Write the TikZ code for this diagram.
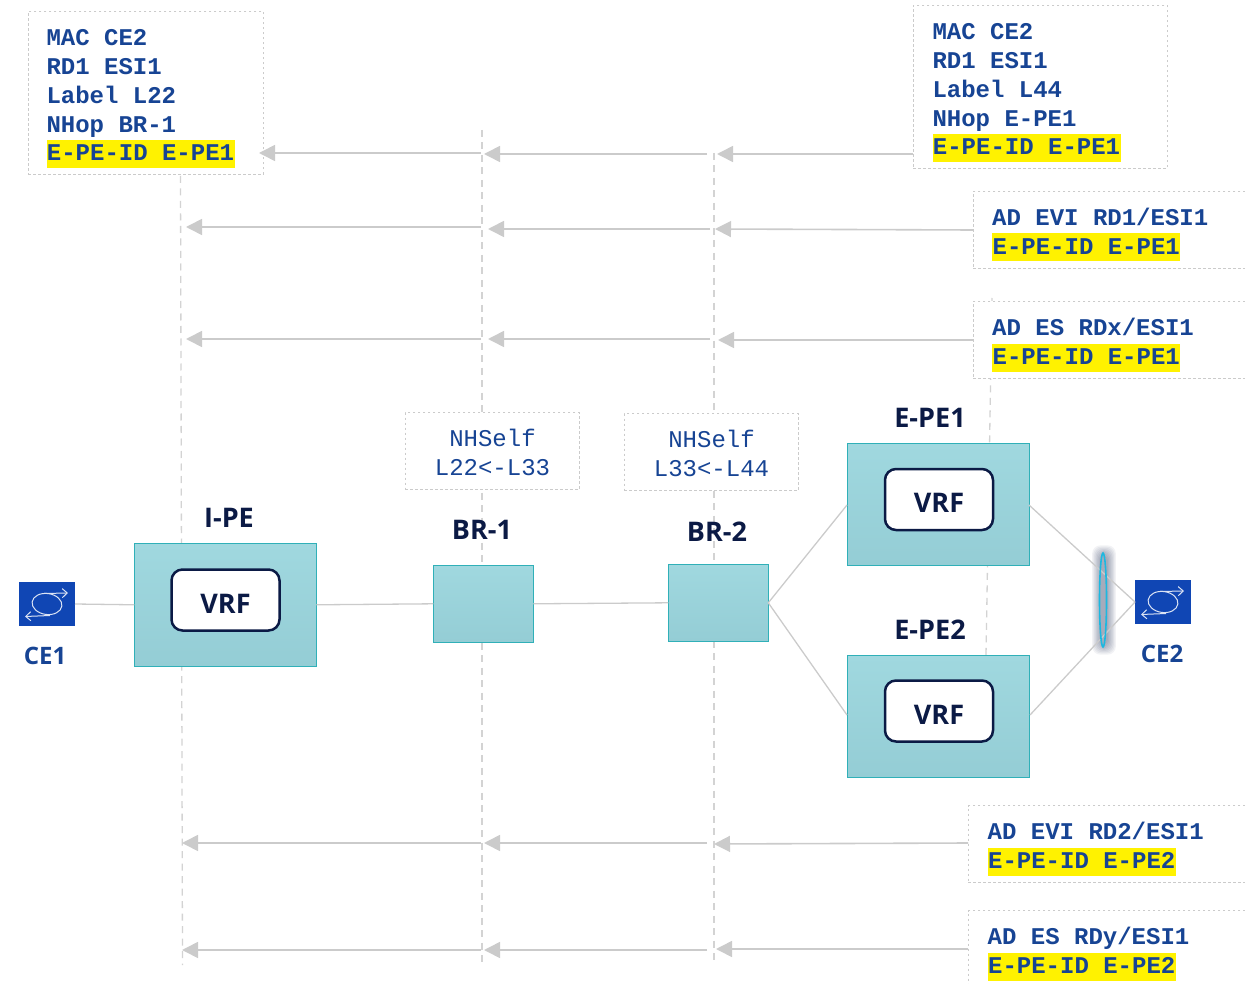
\documentclass[tikz,border=0pt]{standalone}
\usepackage{fontspec}
\setmainfont{Open Sans}
\setmonofont{Liberation Mono}
\usetikzlibrary{positioning,calc,arrows.meta}
\definecolor{msgblue}{HTML}{174494}
\definecolor{navy}{HTML}{0B1A45}
\definecolor{linegray}{HTML}{CBCBCB}
\definecolor{teal1}{HTML}{A0D8DF}
\definecolor{teal2}{HTML}{94CDD5}
\definecolor{tealedge}{HTML}{30B0B8}
\definecolor{iconblue}{HTML}{1046B4}
\definecolor{ringcyan}{HTML}{1CB8E0}
\newcommand{\hlid}[1]{{\setlength{\fboxsep}{0pt}\colorbox{yellow}{\rule[-7pt]{0pt}{28pt}\hspace{.4pt}#1\hspace{.4pt}}}}
\newcommand{\topline}{\rule{0pt}{20pt}}
\tikzset{
  router/.style={draw=tealedge,line width=1.5pt,top color=teal1,bottom color=teal2,anchor=north west,inner sep=0pt,outer sep=0pt,xshift=.3pt,yshift=-.3pt},
  vrfbox/.style={draw=navy,line width=2.5pt,fill=white,rounded corners=11pt,minimum width=108pt,minimum height=61pt,text height=26pt,text depth=0pt,font=\fontsize{27}{30}\selectfont\bfseries,text=navy},
  devname/.style={font=\fontsize{27}{30}\selectfont\bfseries,text=navy},
  cename/.style={font=\fontsize{24}{30}\selectfont\bfseries,text=msgblue},
  cebox/.style={fill=iconblue,minimum width=56pt,minimum height=44pt,inner sep=0pt,outer sep=0pt},
  dashbox/.style={draw=linegray,fill=white,line width=1pt,dash pattern=on 2.5pt off 2.5pt,anchor=north west,inner sep=0pt,outer sep=0pt,xshift=.3pt,yshift=-.5pt},
  msgtext/.style={anchor=north west,inner sep=0pt,align=left,text=msgblue,font=\fontsize{24}{28.8}\selectfont\ttfamily\bfseries},
  selftext/.style={inner sep=0pt,align=center,text=msgblue,font=\fontsize{24}{28.8}\selectfont\ttfamily},
  lifeline/.style={draw=linegray!85,line width=1.3pt,dash pattern=on 7pt off 5.5pt},
  link/.style={draw=linegray,line width=1.3pt},
  msgarrow/.style={draw=linegray,line width=1.6pt,-{Triangle[length=16pt,width=16pt]}},
  swicon/.pic={
    \draw[white!85!iconblue,line width=1pt,rotate=-8] (0,0) ellipse (15pt and 10.5pt);
    \draw[white!85!iconblue,line width=1pt,-{Straight Barb[length=5pt,width=9pt]}] (-3,-10.5) -- (21,-11);
    \draw[white!85!iconblue,line width=1pt,-{Straight Barb[length=5pt,width=9pt]}] (3,11.5) -- (-22,12.5);
  }
}
\begin{document}
\begin{tikzpicture}[x=1pt,y=-1pt]
\path[use as bounding box,clip] (0,0) rectangle (1245,984);
% lifelines
\coordinate (ipetop) at (180.5,176);
\coordinate (ipebot) at (182.5,965);
\coordinate (bronetop) at (482,130);
\coordinate (bronebot) at (482,965);
\coordinate (brtwotop) at (714,153);
\coordinate (brtwobot) at (714,965);
\coordinate (epetop) at (992,298);
\coordinate (epebot) at (986,655);
\draw[lifeline] (ipetop) -- (ipebot);
\draw[lifeline] (bronetop) -- (bronebot);
\draw[lifeline] (brtwotop) -- (brtwobot);
\draw[lifeline] (epetop) -- (epebot);
% message boxes
\node[dashbox,minimum width=235pt,minimum height=163pt] (macleft) at (28,11) {};
\node[msgtext] (macleftt) at (46.3,25.5) {\topline MAC CE2\\RD1 ESI1\\Label L22\\NHop BR-1\\\hlid{E-PE-ID E-PE1}};
\node[dashbox,minimum width=254pt,minimum height=163pt] (macright) at (913,5) {};
\node[msgtext] (macrightt) at (932.3,19.5) {\topline MAC CE2\\RD1 ESI1\\Label L44\\NHop E-PE1\\\hlid{E-PE-ID E-PE1}};
\node[dashbox,minimum width=290pt,minimum height=77pt] (evione) at (973,191) {};
\node[msgtext] (evionet) at (992,205.5) {\topline AD EVI RD1/ESI1\\\hlid{E-PE-ID E-PE1}};
\node[dashbox,minimum width=290pt,minimum height=77pt] (esone) at (973,301) {};
\node[msgtext] (esonet) at (992,315.5) {\topline AD ES RDx/ESI1\\\hlid{E-PE-ID E-PE1}};
\node[dashbox,minimum width=290pt,minimum height=77pt] (evitwo) at (968,805) {};
\node[msgtext] (evitwot) at (987.5,819.5) {\topline AD EVI RD2/ESI1\\\hlid{E-PE-ID E-PE2}};
\node[dashbox,minimum width=290pt,minimum height=77pt] (estwo) at (968,910) {};
\node[msgtext] (estwot) at (987.5,924.5) {\topline AD ES RDy/ESI1\\\hlid{E-PE-ID E-PE2}};
\node[dashbox,minimum width=174pt,minimum height=77pt] (selfone) at (405,412) {};
\node[selftext] (selfonet) at (492.5,452.5) {NHSelf\\L22<-L33};
\node[dashbox,minimum width=174pt,minimum height=77pt] (selftwo) at (624,413) {};
\node[selftext] (selftwot) at (711.5,453.5) {NHSelf\\L33<-L44};
% routers
\node[router,minimum width=182pt,minimum height=123pt] (ipe) at (134,543) {};
\node[router,minimum width=100pt,minimum height=77pt] (brone) at (433,565) {};
\node[router,minimum width=100pt,minimum height=77pt] (brtwo) at (668,564) {};
\node[router,minimum width=182pt,minimum height=122pt] (epeone) at (847,443) {};
\node[router,minimum width=182pt,minimum height=122pt] (epetwo) at (847,655) {};
\node[vrfbox] (vrfi) at (225.5,600) {VRF};
\node[vrfbox] (vrfone) at (939,499.5) {VRF};
\node[vrfbox] (vrftwo) at (939,711) {VRF};
\node[devname] (ipename) at (229,518) {I-PE};
\node[devname] (bronename) at (482,530) {BR-1};
\node[devname] (brtwoname) at (717,532) {BR-2};
\node[devname] (epeonename) at (930,418) {E-PE1};
\node[devname] (epetwoname) at (930,630) {E-PE2};
% customer edges
\node[cebox] (ceone) at (47,604) {};
\node[cebox] (cetwo) at (1163,602) {};
\pic at (ceone.center) {swicon};
\pic at (cetwo.center) {swicon};
\node[cename] (ceonename) at (45,656) {CE1};
\node[cename] (cetwoname) at (1162,654) {CE2};
% multihoming ring
\foreach \g in {1,...,8}
  \fill[navy,opacity=.055,rounded corners=8pt] ({1104-3-\g*1.1},{555-\g*1.2}) rectangle ({1104+3+\g*1.1},{645+\g*1.2});
\coordinate (epeoneout) at (1029,505);
\coordinate (epetwoout) at (1030,715);
\coordinate (epeonein) at (847,505);
\coordinate (epetwoin) at (847,715);
\draw[link] (ceone.east) -- (ipe.west);
\draw[link] (ipe.east) -- (brone.west);
\draw[link] (brone.east) -- (brtwo.west);
\draw[link] (brtwo.east) -- (epeonein);
\draw[link] (brtwo.east) -- (epetwoin);
\draw[link] (epeoneout) -- (cetwo.west);
\draw[link] (epetwoout) -- (cetwo.west);
\draw[ringcyan,line width=1.6pt] (1103,600) ellipse (3.5 and 47);
% messages
\coordinate (ra) at (913,154);
\coordinate (rb) at (717,154);
\coordinate (rc) at (707,154);
\coordinate (rd) at (484,154);
\coordinate (re) at (481,153);
\coordinate (rf) at (259,153);
\draw[msgarrow] (ra) -- (rb);
\draw[msgarrow] (rc) -- (rd);
\draw[msgarrow] (re) -- (rf);
\coordinate (sa) at (973,230);
\coordinate (sb) at (715,229);
\coordinate (sc) at (710,229);
\coordinate (sd) at (488,229);
\coordinate (se) at (481,227);
\coordinate (sf) at (186,227);
\draw[msgarrow] (sa) -- (sb);
\draw[msgarrow] (sc) -- (sd);
\draw[msgarrow] (se) -- (sf);
\coordinate (ta) at (973,340);
\coordinate (tb) at (718,340);
\coordinate (tc) at (710,339);
\coordinate (td) at (488,339);
\coordinate (te) at (481,339);
\coordinate (tf) at (186,339);
\draw[msgarrow] (ta) -- (tb);
\draw[msgarrow] (tc) -- (td);
\draw[msgarrow] (te) -- (tf);
\coordinate (ua) at (968,843);
\coordinate (ub) at (714,844);
\coordinate (uc) at (707,843);
\coordinate (ud) at (484,843);
\coordinate (ue) at (481,843);
\coordinate (uf) at (182,843);
\draw[msgarrow] (ua) -- (ub);
\draw[msgarrow] (uc) -- (ud);
\draw[msgarrow] (ue) -- (uf);
\coordinate (va) at (968,949);
\coordinate (vb) at (716,949);
\coordinate (vc) at (707,950);
\coordinate (vd) at (484,950);
\coordinate (ve) at (481,950);
\coordinate (vf) at (182,950);
\draw[msgarrow] (va) -- (vb);
\draw[msgarrow] (vc) -- (vd);
\draw[msgarrow] (ve) -- (vf);
\end{tikzpicture}
\end{document}
